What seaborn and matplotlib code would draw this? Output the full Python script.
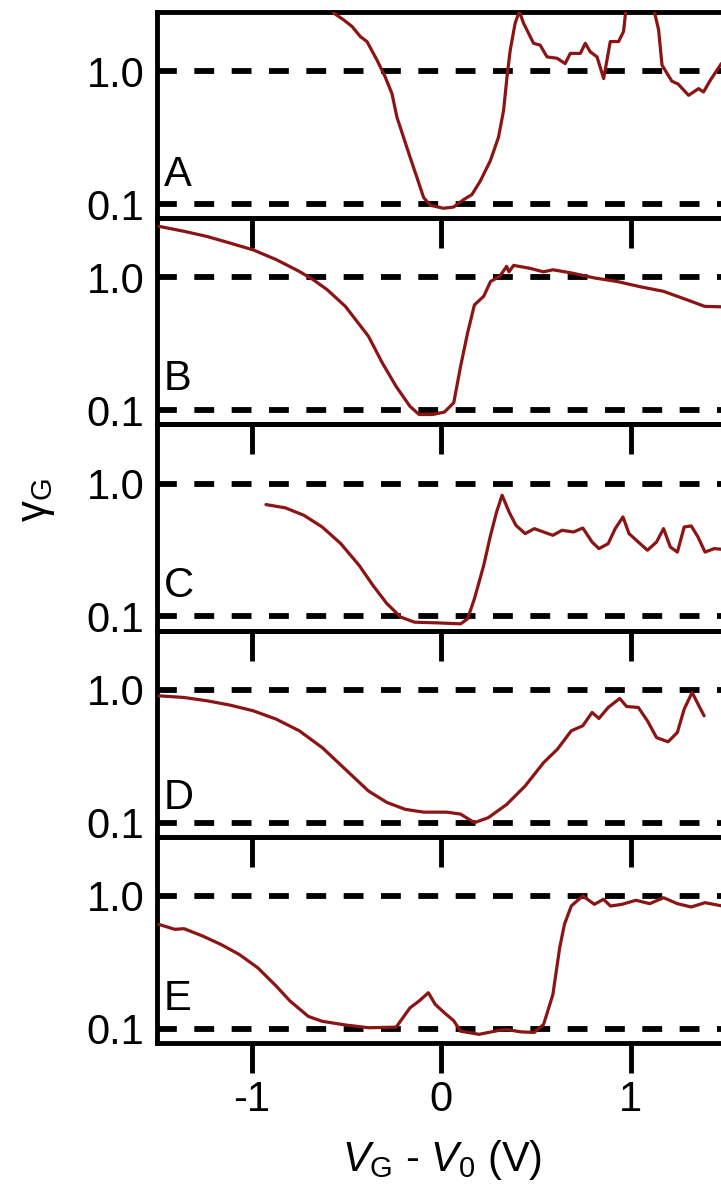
import numpy as np
import pandas as pd
import matplotlib
matplotlib.use("Agg")
import matplotlib.pyplot as plt
from matplotlib.ticker import NullLocator
import seaborn as sns

# ---------------- data ----------------
panel_names = ["A", "B", "C", "D", "E"]

xA = [-0.60, -0.568, -0.515, -0.471, -0.427, -0.392, -0.339, -0.296, -0.26, -0.234,
      -0.199, -0.164, -0.128, -0.093, -0.058, 0.012, 0.065, 0.118, 0.162, 0.206,
      0.259, 0.302, 0.329, 0.347, 0.364, 0.39, 0.412, 0.434, 0.487, 0.522,
      0.558, 0.611, 0.654, 0.681, 0.734, 0.76, 0.786, 0.822, 0.857, 0.892,
      0.936, 0.962, 0.985, 1.1, 1.147, 1.165, 1.217, 1.25, 1.305, 1.358,
      1.384, 1.42, 1.478]
yA = [3.5, 2.74, 2.43, 2.17, 1.82, 1.67, 1.21, 0.906, 0.677, 0.451,
      0.318, 0.224, 0.158, 0.112, 0.098, 0.093, 0.095, 0.108, 0.118, 0.149,
      0.212, 0.318, 0.507, 0.906, 1.44, 2.3, 2.82, 2.3, 1.62, 1.57,
      1.28, 1.25, 1.14, 1.36, 1.36, 1.62, 1.4, 1.28, 0.88, 1.67,
      1.67, 1.99, 4.0, 4.0, 2.04, 1.11, 0.84, 0.80, 0.658, 0.739,
      0.697, 0.855, 1.14]

xB = [-1.49, -1.357, -1.236, -1.114, -0.993, -0.871, -0.75, -0.676, -0.603, -0.506,
      -0.384, -0.311, -0.238, -0.165, -0.117, -0.044, 0.017, 0.066, 0.102, 0.139,
      0.175, 0.224, 0.26, 0.309, 0.345, 0.357, 0.382, 0.467, 0.54, 0.589,
      0.686, 0.808, 0.929, 1.05, 1.173, 1.294, 1.39, 1.484]
yB = [2.42, 2.22, 2.03, 1.81, 1.61, 1.36, 1.11, 0.96, 0.81, 0.605,
      0.36, 0.227, 0.151, 0.107, 0.093, 0.093, 0.097, 0.114, 0.214, 0.382,
      0.62, 0.72, 0.93, 1.02, 1.21, 1.1, 1.23, 1.17, 1.1, 1.14,
      1.08, 0.99, 0.93, 0.85, 0.785, 0.68, 0.605, 0.6]

xC = [-0.925, -0.822, -0.725, -0.628, -0.53, -0.433, -0.36, -0.287, -0.214, -0.141,
      -0.019, 0.102, 0.139, 0.175, 0.224, 0.26, 0.292, 0.321, 0.358, 0.394,
      0.443, 0.491, 0.54, 0.589, 0.637, 0.698, 0.747, 0.796, 0.832, 0.881,
      0.918, 0.959, 0.991, 1.04, 1.088, 1.136, 1.173, 1.209, 1.246, 1.282,
      1.319, 1.355, 1.392, 1.44, 1.484]
yC = [0.695, 0.656, 0.577, 0.471, 0.353, 0.242, 0.171, 0.125, 0.099, 0.0906,
      0.0895, 0.088, 0.096, 0.136, 0.242, 0.408, 0.611, 0.817, 0.611, 0.485,
      0.42, 0.458, 0.432, 0.408, 0.445, 0.432, 0.463, 0.363, 0.324, 0.353,
      0.458, 0.561, 0.42, 0.363, 0.315, 0.363, 0.458, 0.333, 0.305, 0.471,
      0.48, 0.396, 0.305, 0.324, 0.32]

xD = [-1.49, -1.358, -1.236, -1.114, -0.993, -0.871, -0.749, -0.628, -0.506, -0.384,
      -0.287, -0.19, -0.092, 0.029, 0.102, 0.175, 0.248, 0.345, 0.443, 0.54,
      0.613, 0.686, 0.747, 0.796, 0.832, 0.881, 0.942, 0.978, 1.04, 1.088,
      1.136, 1.197, 1.246, 1.282, 1.324, 1.355, 1.387]
yD = [0.9, 0.875, 0.826, 0.766, 0.695, 0.601, 0.491, 0.367, 0.252, 0.173,
      0.142, 0.126, 0.12, 0.12, 0.116, 0.1, 0.109, 0.137, 0.189, 0.283,
      0.357, 0.491, 0.536, 0.675, 0.608, 0.736, 0.86, 0.748, 0.736, 0.584,
      0.437, 0.406, 0.477, 0.715, 0.955, 0.78, 0.637]

xE = [-1.49, -1.406, -1.357, -1.26, -1.163, -1.066, -0.968, -0.871, -0.798, -0.701,
      -0.628, -0.506, -0.384, -0.238, -0.165, -0.117, -0.068, -0.032, 0.017, 0.066,
      0.102, 0.2, 0.297, 0.345, 0.418, 0.491, 0.54, 0.589, 0.625, 0.65,
      0.686, 0.747, 0.808, 0.856, 0.893, 0.954, 1.027, 1.1, 1.173, 1.246,
      1.319, 1.392, 1.484]
yE = [0.611, 0.561, 0.567, 0.5, 0.432, 0.363, 0.288, 0.21, 0.162, 0.124,
      0.114, 0.107, 0.102, 0.103, 0.144, 0.162, 0.187, 0.153, 0.132, 0.115,
      0.096, 0.091, 0.097, 0.099, 0.095, 0.094, 0.108, 0.181, 0.408, 0.611,
      0.84, 1.0, 0.865, 0.944, 0.84, 0.865, 0.928, 0.875, 0.97, 0.875,
      0.826, 0.89, 0.84]

ref_levels = [1.0, 0.1]
ytick_vals = [0.1, 1.0]
ytick_labels = ["0.1", "1.0"]
xtick_vals = [-1, 0, 1]
xtick_labels = ["-1", "0", "1"]

series = [(xA, yA), (xB, yB), (xC, yC), (xD, yD), (xE, yE)]

# ---------------- style ----------------
sns.set_style("ticks")
plt.rcParams["font.family"] = ["Liberation Sans", "DejaVu Sans"]
plt.rcParams["mathtext.fontset"] = "custom"
plt.rcParams["mathtext.rm"] = "Liberation Sans"
plt.rcParams["mathtext.it"] = "Liberation Sans:italic"
plt.rcParams["mathtext.bf"] = "Liberation Sans:bold"
plt.rcParams["text.color"] = "black"
plt.rcParams["xtick.color"] = "black"
plt.rcParams["ytick.color"] = "black"
plt.rcParams["xtick.labelcolor"] = "black"
plt.rcParams["ytick.labelcolor"] = "black"

RED = "#8b1414"
FS = 30

fig, axes = plt.subplots(5, 1, figsize=(7.21, 11.91), dpi=100, sharex=True,
                         gridspec_kw={"hspace": 0})
fig.patch.set_facecolor("white")
px_per_unit = 189.5
fig.subplots_adjust(left=157 / 721, right=(157 + 3.05 * px_per_unit) / 721,
                    top=1 - 12 / 1191, bottom=1 - 1043 / 1191)

label_y = [0.155, 0.165, 0.165, 0.135, 0.16]

for i, ax in enumerate(axes):
    ax.patch.set_visible(False)
    x, y = series[i]
    for lv in ref_levels:
        ax.axhline(lv, color="black", lw=4.2, dashes=(3.4, 3.0), zorder=1)
    sns.lineplot(x=x, y=y, ax=ax, color=RED, lw=2.3, estimator=None, sort=False,
                 zorder=3)
    ax.set_yscale("log")
    ax.set_xlim(-1.5, 1.55)
    ax.set_ylim(0.0783, 2.786)
    ax.set_yticks(ytick_vals)
    ax.set_yticklabels(ytick_labels)
    ax.yaxis.set_minor_locator(NullLocator())
    ax.xaxis.set_minor_locator(NullLocator())
    ax.tick_params(axis="y", length=0, pad=9, labelsize=FS, labelcolor="black")
    ax.set_xticks(xtick_vals)
    ax.set_xticklabels(xtick_labels)
    ax.tick_params(axis="x", direction="out", length=21.5, width=3.5,
                   bottom=True, top=False, labelbottom=(i == 4),
                   labelsize=FS, pad=5, color="black", labelcolor="black")
    ax.set_xlabel("")
    ax.set_ylabel("")
    for side in ["left", "top", "bottom"]:
        ax.spines[side].set_linewidth(3.5)
        ax.spines[side].set_color("black")
    ax.spines["right"].set_visible(False)
    ax.text(0.012, label_y[i], panel_names[i], transform=ax.transAxes,
            fontsize=FS, ha="left", va="baseline", color="black")

fig.text(37 / 721, 1 - 500 / 1191, r"$\mathrm{γ}_{\mathrm{G}}$", rotation=90,
         ha="center", va="center", fontsize=FS, color="black")
fig.text(442 / 721, 1 - 1160 / 1191, r"$V_{\mathrm{G}}$ - $V_{\mathrm{0}}$ (V)",
         ha="center", va="center", fontsize=FS, color="black")

fig.savefig("out.png", dpi=100, facecolor="white")
